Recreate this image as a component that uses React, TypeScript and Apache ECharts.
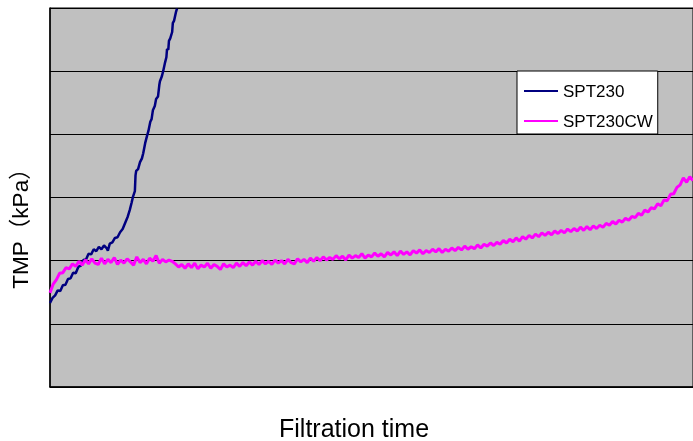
import React, { useEffect, useRef } from "react";
import * as echarts from "echarts";

// Filtration time (arbitrary units, 0..100 spans the visible plot width)
const xMin = 0;
const xMax = 100;
// TMP (arbitrary units, 6 grid divisions, no tick labels in the original)
const yMin = 0;
const yMax = 6;
const yInterval = 1;

const seriesNames = ["SPT230", "SPT230CW"];

// SPT230 readings
const blueTime = [
  0.0, 0.4, 0.8, 1.2, 1.6, 2.0, 2.4, 2.8, 3.2, 3.6, 4.0, 4.4, 4.8, 5.2, 5.6, 6.0,
  6.4, 6.8, 7.2, 7.6, 8.0, 8.4, 8.8, 9.0, 9.3, 9.7, 10.1, 10.5, 10.9, 11.3, 11.7,
  12.1, 12.4, 12.7, 12.9, 13.2, 13.3, 13.4, 13.7, 14.0, 14.3, 14.5, 14.8, 15.1,
  15.3, 15.6, 15.8, 16.0, 16.3, 16.5, 16.8, 17.0, 17.1, 17.4, 17.6, 17.9, 18.1,
  18.2, 18.4, 18.5, 18.7, 19.0, 19.1, 19.3, 19.6, 19.75,
];
const blueTMP = [
  1.33, 1.41, 1.45, 1.53, 1.52, 1.61, 1.62, 1.71, 1.72, 1.81, 1.8, 1.9, 1.92,
  2.01, 2.02, 2.11, 2.1, 2.18, 2.15, 2.22, 2.18, 2.24, 2.2, 2.16, 2.27, 2.29,
  2.36, 2.37, 2.45, 2.5, 2.6, 2.7, 2.8, 2.92, 3.01, 3.1, 3.35, 3.42, 3.45, 3.56,
  3.62, 3.7, 3.86, 3.98, 4.05, 4.2, 4.24, 4.38, 4.45, 4.56, 4.6, 4.78, 4.84,
  4.92, 5.0, 5.14, 5.22, 5.35, 5.34, 5.48, 5.52, 5.62, 5.76, 5.8, 5.94, 5.99,
];

// SPT230CW readings, sampled every 0.5 time units from 0 to 100
const pinkStep = 0.5;
const pinkTMP = [
  1.49, 1.63, 1.7, 1.8, 1.81, 1.89, 1.87, 1.95, 1.91, 1.99, 1.93, 2.01, 1.95,
  2.03, 1.96, 1.94, 2.04, 1.95, 2.02, 1.97, 2.05, 1.94, 2.01, 1.96, 2.03, 1.98,
  1.93, 2.06, 1.97, 2.02, 1.95, 2.04, 1.99, 2.08, 1.96, 2.02, 1.98, 2.01, 1.99,
  1.95, 1.9, 1.94, 1.88, 1.95, 1.89, 1.96, 1.87, 1.93, 1.9, 1.96, 1.88, 1.94,
  1.91, 1.86, 1.95, 1.9, 1.93, 1.89, 1.96, 1.91, 1.97, 1.92, 1.98, 1.93, 1.99,
  1.94, 2.0, 1.95, 1.99, 1.94, 2.01, 1.96, 2.0, 1.95, 2.02, 1.97, 1.95, 2.03,
  1.98, 2.02, 1.97, 2.04, 1.99, 2.05, 2.0, 2.06, 2.01, 2.05, 2.02, 2.08, 2.03,
  2.07, 2.01, 2.09, 2.04, 2.08, 2.05, 2.11, 2.04, 2.09, 2.06, 2.12, 2.07, 2.11,
  2.06, 2.13, 2.09, 2.14, 2.08, 2.15, 2.1, 2.14, 2.09, 2.16, 2.12, 2.17, 2.11,
  2.16, 2.13, 2.18, 2.14, 2.19, 2.13, 2.18, 2.15, 2.2, 2.16, 2.21, 2.17, 2.23,
  2.18, 2.22, 2.19, 2.25, 2.2, 2.26, 2.23, 2.28, 2.24, 2.29, 2.26, 2.32, 2.28,
  2.34, 2.3, 2.36, 2.31, 2.38, 2.34, 2.4, 2.36, 2.42, 2.38, 2.44, 2.4, 2.45,
  2.41, 2.47, 2.43, 2.48, 2.44, 2.5, 2.46, 2.51, 2.47, 2.53, 2.48, 2.54, 2.49,
  2.55, 2.51, 2.56, 2.53, 2.59, 2.56, 2.62, 2.58, 2.64, 2.61, 2.67, 2.64, 2.7,
  2.68, 2.75, 2.72, 2.8, 2.77, 2.84, 2.82, 2.9, 2.87, 2.96, 2.95, 3.05, 3.06,
  3.16, 3.2, 3.31, 3.24, 3.33, 3.27,
];

const xTitle = "Filtration time";
const yTitle = "TMP（kPa）";

export default function App() {
  const ref = useRef<HTMLDivElement>(null);

  useEffect(() => {
    if (!ref.current) return;
    const chart = echarts.init(ref.current, undefined, { renderer: "svg" });

    const blueData = blueTime.map((t, i) => [t, blueTMP[i]]);
    const pinkData = pinkTMP.map((v, i) => [i * pinkStep, v]);
    const font = "'Liberation Sans', Arial, 'Noto Sans CJK JP', sans-serif";

    chart.setOption({
      animation: false,
      grid: {
        left: 50,
        top: 8,
        right: -2,
        bottom: 54,
        show: true,
        backgroundColor: "#C0C0C0",
        borderColor: "#000",
        borderWidth: 1,
      },
      xAxis: {
        type: "value",
        min: xMin,
        max: xMax,
        axisLine: { show: true, lineStyle: { color: "#000", width: 1.5 } },
        axisTick: { show: false },
        axisLabel: { show: false },
        splitLine: { show: false },
      },
      yAxis: {
        type: "value",
        min: yMin,
        max: yMax,
        interval: yInterval,
        axisLine: { show: true, lineStyle: { color: "#000", width: 1.5 } },
        axisTick: { show: false },
        axisLabel: { show: false },
        splitLine: { show: true, lineStyle: { color: "#000", width: 1.2 } },
      },
      legend: {
        data: seriesNames,
        orient: "vertical",
        left: 517,
        top: 71,
        padding: [10, 5, 3, 7],
        itemGap: 10,
        itemWidth: 34,
        itemHeight: 2,
        icon: "rect",
        backgroundColor: "#fff",
        borderColor: "#000",
        borderWidth: 1,
        textStyle: {
          color: "#000",
          fontSize: 17,
          lineHeight: 20,
          fontFamily: font,
        },
      },
      series: [
        {
          name: seriesNames[0],
          type: "line",
          data: blueData,
          showSymbol: false,
          symbol: "none",
          lineStyle: { color: "#000080", width: 2.5 },
          itemStyle: { color: "#000080" },
          z: 3,
        },
        {
          name: seriesNames[1],
          type: "line",
          data: pinkData,
          showSymbol: false,
          symbol: "none",
          lineStyle: { color: "#FF00FF", width: 3 },
          itemStyle: { color: "#FF00FF" },
          z: 4,
        },
      ],
      graphic: [
        {
          type: "text",
          left: 279,
          top: 415,
          style: {
            text: xTitle,
            fontSize: 25,
            fontFamily: font,
            fill: "#000",
          },
        },
        {
          type: "text",
          x: 20,
          y: 223,
          rotation: Math.PI / 2,
          style: {
            text: yTitle,
            fontSize: 22.5,
            fontFamily: font,
            fill: "#000",
            align: "center",
            verticalAlign: "middle",
          },
        },
      ],
    });

    return () => chart.dispose();
  }, []);

  return (
    <div
      ref={ref}
      style={{ position: "fixed", left: 0, top: 0, width: 693, height: 441 }}
    />
  );
}
